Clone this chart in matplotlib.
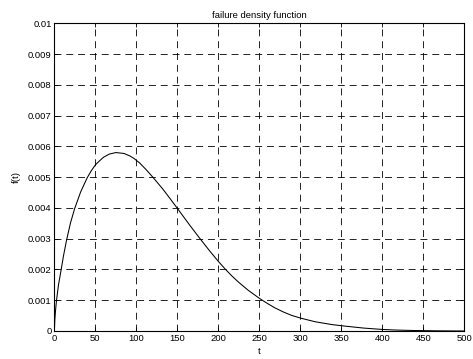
import numpy as np
import matplotlib
matplotlib.use("Agg")
import matplotlib.pyplot as plt

plt.rcParams['font.family'] = ['Liberation Sans', 'DejaVu Sans']
plt.rcParams['lines.scale_dashes'] = False

# values
t = [0, 0.5, 1.5, 2.6, 5, 8.3, 11, 14.8, 19.7, 24.6, 32, 40, 45, 50, 55,
     60, 67, 75, 85, 92, 97, 104, 112, 120, 132, 140, 149, 157, 165, 177,
     190, 200, 208, 216, 224, 236, 250, 260, 269, 279, 289, 300, 318, 338,
     352, 377, 399, 417, 440, 470, 500]
f = [0.0, 0.00035, 0.0007, 0.001, 0.0015, 0.002, 0.00243, 0.00295,
     0.00352, 0.00397, 0.00452, 0.00498, 0.00521, 0.0054, 0.00553,
     0.00565, 0.00575, 0.0058, 0.00577, 0.00569, 0.00561, 0.00546,
     0.00524, 0.005, 0.00462, 0.00434, 0.00402, 0.00373, 0.00344,
     0.00302, 0.00258, 0.00226, 0.00202, 0.0018, 0.0016, 0.00133,
     0.00106, 0.00089, 0.00075, 0.00062, 0.00051, 0.00042, 0.0003,
     0.00021, 0.000165, 0.000095, 0.000052, 0.00003, 0.000015,
     0.000005, 0.0]

xticks = np.arange(0, 501, 50)
yticks = np.arange(0, 0.0101, 0.001)
ytick_labels = ['0'] + ['%g' % v for v in yticks[1:]]

fig = plt.figure(figsize=(4.73, 3.59), dpi=100)
ax = fig.add_axes([0.115, 0.078, 0.867, 0.857])

ax.plot(t, f, color='k', linewidth=0.75)

ax.set_xlim(0, 500)
ax.set_ylim(0, 0.01)
ax.set_xticks(xticks)
ax.set_yticks(yticks)
ax.set_yticklabels(ytick_labels)
ax.tick_params(direction='in', top=True, right=True, labelsize=6.8,
               length=3, width=0.6, pad=2)
ax.grid(True, color='k', linestyle=(0, (5, 3.5)), linewidth=0.6)
for s in ax.spines.values():
    s.set_linewidth(0.8)

ax.set_title('failure density function', fontsize=6.8, pad=4)
ax.set_xlabel('t', fontsize=6.8, labelpad=3)
ax.set_ylabel('f(t)', fontsize=6.8, labelpad=5)

fig.savefig('out.png', dpi=100)
